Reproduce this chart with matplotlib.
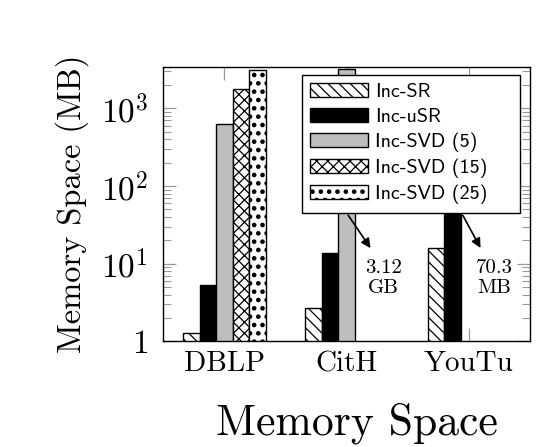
import numpy as np
import matplotlib
matplotlib.use("Agg")
import matplotlib.pyplot as plt
import matplotlib.hatch as mhatch
from matplotlib.ticker import FixedLocator, LogLocator, NullFormatter

# larger dots for the dotted hatch
mhatch.SmallFilledCircles.size = 0.2

plt.rcParams['mathtext.fontset'] = 'cm'
plt.rcParams['font.family'] = ['cmr10', 'DejaVu Serif']
plt.rcParams['axes.unicode_minus'] = False
plt.rcParams['hatch.linewidth'] = 0.9

categories = ["DBLP", "CitH", "YouTu"]
series_names = ["Inc-SR", "Inc-uSR", "Inc-SVD (5)", "Inc-SVD (15)", "Inc-SVD (25)"]
inc_sr = [1.28, 2.67, 15.8]
inc_usr = [5.27, 13.6, 70.3]
inc_svd5 = [628, 3195, None]
inc_svd15 = [1771, None, None]
inc_svd25 = [3080, None, None]
ytick_vals = [1, 10, 100, 1000]
ytick_labels = ["$1$", "$10^{1}$", "$10^{2}$", "$10^{3}$"]
annot_texts = ["3.12\nGB", "70.3\nMB"]

series = [inc_sr, inc_usr, inc_svd5, inc_svd15, inc_svd25]
facecolors = ["white", "black", "#bebebe", "white", "white"]
hatches = ["\\\\\\", None, None, "xxx", ".."]

fig = plt.figure(figsize=(5.36, 4.47), dpi=100)
L, R, B, T = 163.3/536, 530/536, 1-341.4/447, 1-66.7/447
ax = fig.add_axes([L, B, R-L, T-B])

x = np.arange(len(categories))
w = 0.135
for i, (vals, fc, h, name) in enumerate(zip(series, facecolors, hatches, series_names)):
    idx = [j for j, v in enumerate(vals) if v is not None]
    hv = [vals[j] for j in idx]
    ax.bar(x[idx] + (i-2)*w, hv, width=w, bottom=0, color=fc, edgecolor="black",
           hatch=h, linewidth=1.0, label=name, zorder=2)

ax.set_yscale("log")
ax.set_ylim(1, 3430)
ax.set_xlim(-0.5, 2.5)

ax.yaxis.set_major_locator(FixedLocator(ytick_vals))
ax.set_yticklabels(ytick_labels)
ax.yaxis.set_minor_locator(LogLocator(base=10, subs=np.arange(2, 10)))
ax.yaxis.set_minor_formatter(NullFormatter())
ax.set_xticks(x)
ax.set_xticklabels(categories)

ax.tick_params(axis='both', which='major', direction='in', color='#9a9a9a',
               length=9.5, width=0.9, top=True, right=True, labelcolor='black')
ax.tick_params(axis='y', which='minor', direction='in', color='#9a9a9a',
               length=6, width=0.8, right=True, left=True)
ax.tick_params(axis='x', labelsize=21, pad=7)
ax.tick_params(axis='y', labelsize=24, pad=11)
for s in ax.spines.values():
    s.set_linewidth(1.0)
    s.set_color('black')
    s.set_zorder(5)

ax.set_ylabel("Memory Space (MB)", fontsize=23.4, labelpad=8)

# annotations
arrow_kw = dict(arrowstyle='-|>', color='black', lw=1.2, mutation_scale=14)
ax.annotate("", xy=(1.208, 14.8), xytext=(1.0, 45), arrowprops=arrow_kw, zorder=3)
ax.annotate("", xy=(2.106, 14.8), xytext=(1.94, 45), arrowprops=arrow_kw, zorder=3)
ax.text(1.298, 6.5, annot_texts[0], ha='center', va='center', fontsize=15,
        linespacing=1.15, zorder=3)
ax.text(2.21, 6.5, annot_texts[1], ha='center', va='center', fontsize=15,
        linespacing=1.15, zorder=3)

leg = ax.legend(loc='upper left', bbox_to_anchor=(0.378, 0.46, 0.5945, 0.51),
                mode='expand', fancybox=False,
                framealpha=1, edgecolor='black', prop={'family': 'cmss10', 'size': 14.4},
                handlelength=2.9, handleheight=0.7, handletextpad=0.35,
                labelspacing=0.33, borderpad=0.42, borderaxespad=0)
leg.get_frame().set_linewidth(1.0)
leg.set_zorder(10)

fig.text(357/536, 1-435/447, "Memory Space", ha='center', va='baseline', fontsize=31.5)

fig.savefig("out.png", dpi=100)
